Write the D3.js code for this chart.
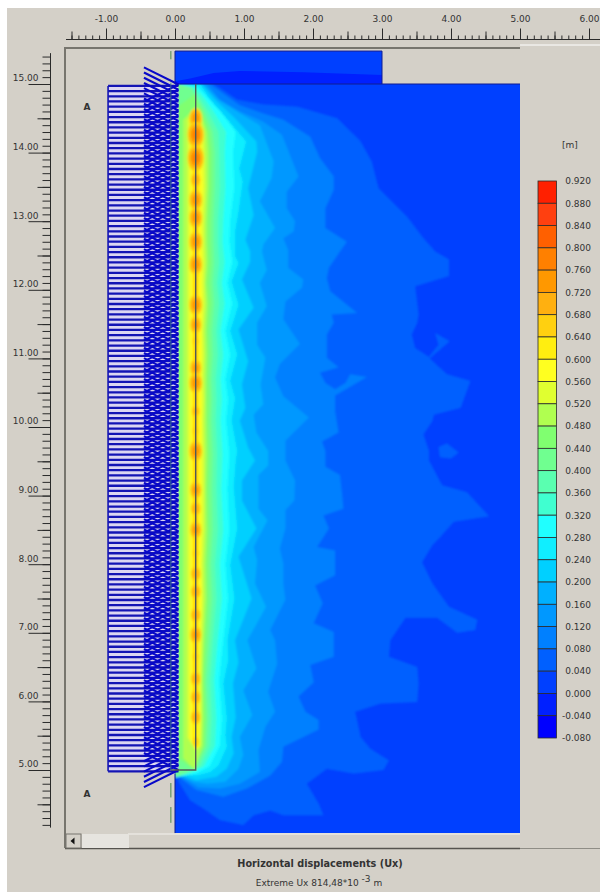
<!DOCTYPE html>
<html>
<head>
<meta charset="utf-8">
<script src="https://cdnjs.cloudflare.com/ajax/libs/d3/7.8.5/d3.min.js"></script>
<style>
  html, body { margin: 0; padding: 0; background: #fff; }
  svg { display: block; }
  text { font-family: "DejaVu Sans", sans-serif; font-size: 9px; fill: #333; }
</style>
</head>
<body>
<svg id="chart" width="600" height="892"></svg>
<script>
// --- legend ---
const legendValues = [0.92, 0.88, 0.84, 0.80, 0.76, 0.72, 0.68, 0.64, 0.60, 0.56, 0.52, 0.48, 0.44,
  0.40, 0.36, 0.32, 0.28, 0.24, 0.20, 0.16, 0.12, 0.08, 0.04, 0.00, -0.04, -0.08];
const bandColors = ['#ff2000', '#ff4010', '#ff6000', '#ff8000', '#ff9800', '#ffb010', '#ffd010', '#ffee10',
  '#ffff20', '#e0ff30', '#b0ff50', '#80ff70', '#70ff90', '#5affb0', '#40ffd0', '#20ffff', '#10eeff', '#00d0ff',
  '#00b0ff', '#0098ff', '#0080ff', '#0060ff', '#0040ff', '#0020ff', '#0000ff'];

// --- rulers ---
const xMajorTicks = [-1, 0, 1, 2, 3, 4, 5, 6];
const xMidTicks = [-1.5, -0.5, 0.5, 1.5, 2.5, 3.5, 4.5, 5.5];
const yMajorTicks = [5, 6, 7, 8, 9, 10, 11, 12, 13, 14, 15];
const yMidTicks = [4.5, 5.5, 6.5, 7.5, 8.5, 9.5, 10.5, 11.5, 12.5, 13.5, 14.5];

// --- contours, [x, elevation], running down from the surface ---
const contour004 = [[.56,15],[.65,14.94],[.90,14.77],[1.28,14.70],[1.77,14.67],[2.35,14.50],[2.69,14.16],[2.85,13.87],
  [2.95,13.48],[3.36,13.07],[3.60,12.75],[3.77,12.56],[3.97,12.44],[3.97,12.20],[3.48,12.05],[3.53,11.64],[3.51,11.52],
  [3.43,11.35],[3.48,11.15],[3.68,11.02],[3.82,11.20],[3.77,11.37],[3.98,11.25],[3.69,11.00],[3.94,10.77],[4.28,10.67],
  [4.14,10.28],[3.75,10.18],[3.73,10.09],[3.60,9.89],[3.68,9.65],[3.68,9.51],[3.87,9.15],[4.23,9.05],[4.55,8.70],
  [4.04,8.62],[3.82,8.37],[3.73,8.28],[3.58,8.03],[3.73,7.72],[3.97,7.38],[4.38,7.19],[4.35,7.04],[4.09,7.00],[3.80,7.22],
  [3.34,7.22],[3.12,6.89],[3.10,6.65],[3.51,6.50],[3.53,6.26],[3.51,5.99],[2.98,5.97],[2.61,5.85],[2.69,5.48],[2.83,5.31],
  [3.10,5.14],[3.02,5.00],[2.59,4.95],[2.20,5.02],[1.91,4.80],[2.08,4.51],[2.15,4.34],[1.57,4.34],[1.38,4.41],[1.14,4.34],
  [.99,4.20],[.65,4.27],[.41,4.44],[.22,4.56],[.07,4.80],[0,4.95]];
const island004 = [[3.82,9.71],[3.94,9.76],[4.11,9.63],[4.00,9.54],[3.84,9.56]];
const contour008 = [[.51,15],[.73,14.84],[.94,14.69],[1.28,14.57],[1.57,14.48],[1.96,14.23],[2.10,13.92],[2.30,13.65],
  [2.30,13.46],[2.18,13.19],[2.18,12.90],[2.49,12.70],[2.39,12.56],[2.23,12.32],[2.20,12.17],[2.25,11.98],[2.64,11.66],
  [2.27,11.64],[2.30,11.52],[2.20,11.35],[2.20,11.01],[2.37,10.87],[2.10,10.79],[2.18,10.64],[2.32,10.55],[2.47,10.64],
  [2.54,10.77],[2.78,10.73],[2.32,10.46],[2.32,10.23],[2.37,9.92],[2.13,9.79],[2.18,9.65],[2.18,9.42],[2.39,9.30],
  [2.42,9.03],[2.44,8.81],[2.15,8.71],[2.23,8.52],[2.06,8.25],[2.32,8.20],[2.32,7.84],[2.03,7.69],[2.14,7.43],[2.01,7.14],
  [2.30,7.01],[2.30,6.89],[2.30,6.65],[1.96,6.53],[2.01,6.28],[1.79,6.07],[1.89,5.85],[2.08,5.73],[2.08,5.59],[1.57,5.34],
  [1.55,5.12],[1.38,4.92],[1.04,4.73],[.70,4.61],[.31,4.71],[.12,4.85],[0,4.95]];
const contour012 = [[.46,15],[.65,14.77],[.94,14.60],[1.28,14.45],[1.55,14.26],[1.79,13.65],[1.62,13.43],[1.62,13.19],
  [1.74,13.00],[1.72,12.85],[1.57,12.75],[1.64,12.58],[1.64,12.32],[1.86,12.15],[1.84,12.03],[1.60,11.83],[1.57,11.57],
  [1.81,11.21],[1.52,10.92],[1.45,10.72],[1.57,10.45],[1.94,10.14],[1.60,9.80],[1.60,9.51],[1.74,9.22],[1.73,8.93],
  [1.60,8.79],[1.60,8.52],[1.52,8.23],[1.57,8.01],[1.57,7.72],[1.60,7.48],[1.38,7.04],[1.45,6.89],[1.48,6.55],[1.35,6.14],
  [1.45,5.85],[1.31,5.63],[1.21,5.29],[1.23,4.97],[.94,4.80],[.65,4.73],[.34,4.75],[.12,4.88],[0,4.95]];
const contour016 = [[.41,15],[.63,14.77],[.90,14.60],[1.23,14.40],[1.43,13.87],[1.40,13.63],[1.23,13.29],[1.45,12.90],
  [1.28,12.66],[1.26,12.56],[1.33,12.29],[1.23,12.10],[1.33,11.76],[1.19,11.52],[1.19,11.20],[1.31,11.01],[1.24,10.62],
  [1.28,10.33],[1.14,10.18],[1.18,9.92],[1.35,9.65],[1.35,9.44],[1.21,9.30],[1.21,8.81],[1.34,8.64],[1.14,8.25],[1.19,8.06],
  [1.16,7.72],[1.32,7.38],[1.05,6.89],[1.18,6.48],[.99,6.16],[1.12,5.80],[.94,5.48],[.99,5.22],[.92,5.02],[.73,4.83],
  [.46,4.80],[.27,4.83],[.10,4.90],[0,4.95]];
const contour020 = [[.39,15],[.58,14.77],[.85,14.52],[1.18,14.16],[1.19,14.01],[1.06,13.48],[1.14,13.09],[1.02,12.73],
  [1.09,12.56],[1.09,12.41],[.97,12.15],[1.14,11.74],[.92,11.42],[1.06,10.96],[.97,10.62],[1.02,10.28],[.94,10.09],
  [1.06,9.70],[1.16,9.51],[.97,9.22],[.97,8.93],[1.18,8.52],[.92,8.11],[1.11,7.50],[.87,6.89],[.92,6.57],[.84,6.26],
  [.88,5.77],[.82,5.48],[.85,5.24],[.75,5.02],[.60,4.90],[.31,4.85],[.17,4.90],[0,4.95]];
const contour024 = [[.36,15],[.53,14.74],[.75,14.50],[1.03,14.16],[.93,13.77],[.98,13.58],[.92,13.14],[.87,12.85],[.87,12.49],
  [.92,12.39],[.82,12.12],[.92,11.78],[.80,11.40],[.90,11.06],[.80,10.67],[.87,10.42],[.82,10.09],[.90,9.65],[.88,9.51],
  [.85,9.13],[.90,8.52],[.80,7.99],[.86,7.50],[.76,6.89],[.77,6.60],[.70,6.26],[.75,5.75],[.73,5.51],[.75,5.34],[.63,5.07],
  [.51,4.97],[.31,4.92],[.05,4.95]];

// --- bands hugging the wall: right edge at each elevation, null where the band is absent ---
const wallRows = [14.95, 14.8, 14.6, 14.3, 14.0, 13.5, 13.0, 12.7, 12.4, 12.1, 11.8, 11.4, 11.05, 10.7, 10.4, 10.1, 9.6,
  9.1, 8.5, 8.0, 7.5, 6.9, 6.3, 5.75, 5.35, 5.05, 4.95];
const edge028 = [.34,.48,.66,.88,.84,.86,.80,.79,.83,.76,.83,.73,.80,.73,.77,.74,.79,.76,.79,.73,.77,.70,.64,.68,.65,.50,.30];
const edge032 = [.30,.42,.56,.74,.72,.73,.70,.69,.72,.68,.72,.66,.70,.66,.68,.66,.69,.67,.70,.65,.68,.62,.57,.60,.58,.42,.22];
const edge036 = [.26,.36,.48,.63,.64,.65,.62,.62,.64,.61,.64,.60,.62,.59,.60,.59,.61,.60,.62,.58,.60,.55,.51,.53,.51,.37,.17];
const edge040 = [.22,.32,.43,.55,.58,.58,.56,.56,.57,.55,.57,.54,.55,.53,.54,.53,.55,.54,.55,.52,.54,.50,.46,.48,.46,.33,.10];
const edge044 = [null,.30,.40,.50,.53,.53,.51,.51,.52,.50,.52,.49,.50,.49,.50,.49,.50,.49,.50,.48,.49,.46,.43,.45,.43,.30,null];
const edge048 = [null,null,.37,.46,.48,.48,.46,.46,.47,.45,.47,.45,.46,.45,.45,.45,.46,.45,.46,.44,.45,.42,.40,.41,.40,.29,null];
const edge052 = [null,null,.35,.42,.43,.44,.42,.42,.43,.42,.43,.41,.42,.41,.42,.41,.42,.42,.42,.40,.41,.39,.38,.38,.37,null,null];
const edge056 = [null,null,null,.38,.39,.40,.38,.38,.39,.38,.39,.38,.38,.38,.38,.38,.38,.38,.38,.37,.38,.36,.35,.36,.35,null,null];
const edge060 = [null,null,null,.35,.35,.36,.35,.35,.36,.35,.35,.35,.35,.35,.35,.35,.35,.35,.35,.34,.35,.34,.34,.34,.34,null,null];
const edge064 = [null,null,null,.33,.33,.33,.33,.33,.33,.33,.33,.33,.33,.33,.33,.33,.33,.33,.33,.33,.33,.33,.33,.33,null,null,null];
const wallLevels = [0.28, 0.32, 0.36, 0.40, 0.44, 0.48, 0.52, 0.56, 0.60, 0.64];
const wallEdges = [edge028, edge032, edge036, edge040, edge044, edge048, edge052, edge056, edge060, edge064];
const wallLefts = [0, 0, 0, 0, .05, .12, .18, .22, .25, .275];

// --- hot spots along the wall ---
const spotElevations = [14.50, 14.26, 13.92, 13.60, 13.31, 13.05, 12.70, 12.37, 11.78, 11.49, 11.25, 10.86, 10.64, 10.23, 9.94,
  9.65, 9.08, 8.81, 8.50, 8.16, 7.86, 7.60, 7.26, 6.97, 6.65, 6.33, 6.06, 5.77, 5.41];
const spotPeaks = [.76, .80, .80, .72, .76, .76, .76, .76, .76, .74, .68, .74, .76, .70, .68, .76, .74, .72, .74, .68, .72, .72,
  .72, .74, .68, .72, .72, .72, .68];

// --- embankment on top ---
const embankmentLower = [[0,15],[0,15.04],[.22,15.08],[.56,15.16],[.94,15.19],[1.86,15.17],[3,15.13],[3,15]];

const svg = d3.select('#chart');
const x = d3.scaleLinear().domain([0, 5]).range([175, 520]);
const y = d3.scaleLinear().domain([5, 15]).range([770, 84]);
const legendY = d3.scaleLinear().domain([0.92, -0.08]).range([181, 738]);
const colorOf = v => bandColors[legendValues.findIndex(d => d <= v + 1e-6) - 1];
const line = d3.line().x(d => x(d[0])).y(d => y(d[1]));

// window background, white strip at the top and left of the grab
svg.append('rect').attr('x', 7).attr('y', 8).attr('width', 593).attr('height', 884).attr('fill', '#d4d0c8');

const defs = svg.append('defs');
defs.append('filter').attr('id', 'soft').append('feGaussianBlur').attr('stdDeviation', 0.8);
defs.append('clipPath').attr('id', 'plot').append('rect')
  .attr('x', x(0)).attr('y', y(15)).attr('width', x(5) - x(0)).attr('height', 833 - y(15));

// --- contour field ---
const field = svg.append('g').attr('clip-path', 'url(#plot)').append('g').attr('filter', 'url(#soft)');
field.append('rect')
  .attr('x', x(0) - 5).attr('y', y(15) - 5).attr('width', x(5) - x(0) + 10).attr('height', 833 - y(15) + 10)
  .attr('fill', colorOf(0.02));

const outerLevels = [
  { level: 0.04, pts: contour004 }, { level: 0.08, pts: contour008 }, { level: 0.12, pts: contour012 },
  { level: 0.16, pts: contour016 }, { level: 0.20, pts: contour020 }, { level: 0.24, pts: contour024 }
];
outerLevels.forEach(c => {
  field.append('path').attr('d', line([[0, 15], ...c.pts]) + 'Z').attr('fill', colorOf(c.level + 0.02));
});
field.append('path').attr('d', line(island004) + 'Z').attr('fill', colorOf(0.06));

wallLevels.forEach((level, i) => {
  const right = wallRows.map((r, k) => [wallEdges[i][k], r]).filter(d => d[0] !== null);
  const left = wallLefts[i];
  const top = right[0][1] + 0.06;
  const bottom = right[right.length - 1][1] - 0.06;
  const tip = left === 0 ? 0 : 0.30;
  const pts = [[tip, top], ...right, [tip, bottom]];
  if (left > 0) pts.push([left, bottom + 0.18], [left, top - 0.18]);
  field.append('path').attr('d', line(pts) + 'Z').attr('fill', colorOf(level + 0.02));
});

// hot spots: nested ellipses, one per band up to the peak
spotElevations.forEach((elev, i) => {
  legendValues.filter(v => v >= 0.64 && v < spotPeaks[i]).reverse().forEach(v => {
    const rx = (spotPeaks[i] - v) * 0.62 + 0.02;
    field.append('ellipse')
      .attr('cx', x(0.30)).attr('cy', y(elev))
      .attr('rx', x(rx) - x(0)).attr('ry', (x(rx) - x(0)) * 1.6)
      .attr('fill', colorOf(v + 0.02));
  });
});

// embankment
svg.append('rect')
  .attr('x', x(0)).attr('y', y(15.48)).attr('width', x(3) - x(0)).attr('height', y(15) - y(15.48))
  .attr('fill', colorOf(0.02));
svg.append('path').attr('d', line(embankmentLower) + 'Z').attr('fill', colorOf(-0.02));
svg.append('path').attr('d', line([[0, 15], [0, 15.48], [3, 15.48], [3, 15]]))
  .attr('fill', 'none').attr('stroke', '#101c90').attr('stroke-width', 1);
svg.append('path').attr('d', line([[0, 15], [5, 15]])).attr('stroke', '#101c90').attr('stroke-width', 1);
svg.append('path').attr('d', line([[0, 4.95], [0, 4.08]])).attr('stroke', '#101c90').attr('stroke-width', 1);

// --- load hatch left of the wall ---
const rowStep = 0.0757;
const hatchRows = d3.range(4.98, 15, rowStep);
const hatch = svg.append('g');
hatch.append('rect')
  .attr('x', x(-0.97)).attr('y', y(14.97)).attr('width', x(0.05) - x(-0.97)).attr('height', y(4.98) - y(14.97))
  .attr('fill', '#dcd6f2').attr('rx', 2);
hatch.append('path').attr('d', line([[-0.97, 14.97], [-0.97, 4.98]]))
  .attr('stroke', '#1414b4').attr('stroke-width', 1.6);
hatch.selectAll('line.row').data(hatchRows).join('line').attr('class', 'row')
  .attr('x1', x(-0.97)).attr('x2', x(0.05))
  .attr('y1', d => y(d)).attr('y2', d => y(d))
  .attr('stroke', '#1414b4').attr('stroke-width', 2.3);
// diagonals, one family running down to the wall, one running up to it
const diagDrop = 0.25;
const downRows = d3.range(5.25, 15.26, rowStep);
const upRows = d3.range(4.75, 14.76, rowStep);
hatch.selectAll('line.down').data(downRows).join('line').attr('class', 'down')
  .attr('x1', x(-0.45)).attr('x2', x(0.05))
  .attr('y1', d => y(d)).attr('y2', d => y(d - diagDrop))
  .attr('stroke', '#0808c8').attr('stroke-width', 2.1);
hatch.selectAll('line.up').data(upRows).join('line').attr('class', 'up')
  .attr('x1', x(-0.45)).attr('x2', x(0.05))
  .attr('y1', d => y(d)).attr('y2', d => y(d + diagDrop))
  .attr('stroke', '#0808c8').attr('stroke-width', 2.1);

// wall and its base
svg.append('path').attr('d', line([[0.30, 15], [0.30, 5], [-0.06, 5]]))
  .attr('fill', 'none').attr('stroke', '#4c5a5a').attr('stroke-width', 1.4);

// centre line, dashed outside the hatch
svg.append('path').attr('d', line([[-0.06, 15.48], [-0.06, 15.36]]))
  .attr('stroke', '#4a8a4a').attr('stroke-width', 1);
svg.append('path').attr('d', line([[-0.06, 15.02], [-0.06, 5]]))
  .attr('stroke', '#3f7f7f').attr('stroke-width', 1).attr('opacity', 0.8);
svg.append('path').attr('d', line([[-0.06, 4.81], [-0.06, 4.60]]))
  .attr('stroke', '#4a8a4a').attr('stroke-width', 1);
svg.append('path').attr('d', line([[-0.06, 4.46], [-0.06, 4.23]]))
  .attr('stroke', '#4a8a4a').attr('stroke-width', 1);

// --- window frame around the plot ---
svg.append('path').attr('d', 'M65,848 L65,48 L520,48').attr('fill', 'none').attr('stroke', '#77756e').attr('stroke-width', 2);
svg.append('line').attr('x1', 520).attr('x2', 600).attr('y1', 45).attr('y2', 45).attr('stroke', '#fff').attr('stroke-width', 1);
svg.append('line').attr('x1', 65).attr('x2', 520).attr('y1', 848.5).attr('y2', 848.5).attr('stroke', '#55534e').attr('stroke-width', 1.5);
svg.append('line').attr('x1', 520).attr('x2', 600).attr('y1', 848.5).attr('y2', 848.5).attr('stroke', '#8f8d86').attr('stroke-width', 1);
svg.append('line').attr('x1', 128).attr('x2', 520).attr('y1', 834).attr('y2', 834).attr('stroke', '#f4f2ee').attr('stroke-width', 1);

// scrollbar
svg.append('rect').attr('x', 66).attr('y', 834).attr('width', 15).attr('height', 14)
  .attr('fill', '#d4d0c8').attr('stroke', '#77756e').attr('stroke-width', 1);
svg.append('path').attr('d', 'M70.5,841 L74.5,837.5 L74.5,844.5 Z').attr('fill', '#111');
svg.append('rect').attr('x', 82).attr('y', 834).attr('width', 47).attr('height', 14).attr('fill', '#e6e4df');

// --- rulers ---
const label = d => d.toFixed(2);
function ruler(axisFn, scale, ticks, size, transform, fmt) {
  const g = svg.append('g').attr('transform', transform).call(
    axisFn(scale).tickValues(ticks).tickSize(size).tickSizeOuter(0).tickPadding(size === 11 ? 7 : 2)
      .tickFormat(fmt || (() => ''))
  );
  g.select('.domain').remove();
  g.selectAll('line').attr('stroke', '#2a2a2a');
  return g;
}
const xMinor = d3.range(-1.5, 6.1, 0.1).map(d => +d.toFixed(1));
const yMinor = d3.range(4.2, 15.45, 0.1).map(d => +d.toFixed(1));

ruler(d3.axisTop, x, xMinor, 4, 'translate(0,39.5)');
ruler(d3.axisTop, x, xMidTicks, 8, 'translate(0,39.5)');
const xLabels = ruler(d3.axisTop, x, xMajorTicks, 11, 'translate(0,39.5)', label);
xLabels.selectAll('text').attr('fill', '#333').style('font-size', '9px');
svg.append('line').attr('x1', 66).attr('x2', 600).attr('y1', 39.5).attr('y2', 39.5).attr('stroke', '#2a2a2a');

ruler(d3.axisLeft, y, yMinor, 8, 'translate(50.5,0)');
ruler(d3.axisLeft, y, yMidTicks, 13, 'translate(50.5,0)');
const yLabels = ruler(d3.axisLeft, y, yMajorTicks, 22, 'translate(50.5,0)', label);
yLabels.selectAll('text')
  .attr('x', -12).attr('dy', '-0.35em').attr('fill', '#333').style('font-size', '9px');
svg.append('line').attr('x1', 50.5).attr('x2', 50.5).attr('y1', y(15.45)).attr('y2', y(4.16)).attr('stroke', '#2a2a2a');

// --- section labels ---
svg.append('text').attr('x', 87).attr('y', 110).attr('text-anchor', 'middle').style('font-weight', 'bold').attr('fill', '#111').text('A');
svg.append('text').attr('x', 87).attr('y', 797).attr('text-anchor', 'middle').style('font-weight', 'bold').attr('fill', '#111').text('A');

// --- legend ---
const legend = svg.append('g');
legend.selectAll('rect').data(bandColors).join('rect')
  .attr('x', 538).attr('width', 18.5)
  .attr('y', (d, i) => legendY(legendValues[i]))
  .attr('height', (d, i) => legendY(legendValues[i + 1]) - legendY(legendValues[i]))
  .attr('fill', d => d).attr('stroke', '#2c2c2c').attr('stroke-width', 0.8);
legend.selectAll('text').data(legendValues).join('text')
  .attr('x', 591).attr('y', d => legendY(d) + 3.3).attr('text-anchor', 'end').attr('fill', '#333')
  .text(d => d.toFixed(3));
svg.append('text').attr('x', 570).attr('y', 148).attr('text-anchor', 'middle').text('[m]');

// --- captions ---
svg.append('text').attr('x', 320).attr('y', 867).attr('text-anchor', 'middle')
  .style('font-weight', 'bold').style('font-size', '9.7px').attr('fill', '#111').text('Horizontal displacements (Ux)');
const extreme = svg.append('text').attr('x', 319).attr('y', 886).attr('text-anchor', 'middle');
extreme.append('tspan').text('Extreme Ux 814,48*10 ');
extreme.append('tspan').attr('dy', -4).text('-3');
extreme.append('tspan').attr('dy', 4).text(' m');
</script>
</body>
</html>
